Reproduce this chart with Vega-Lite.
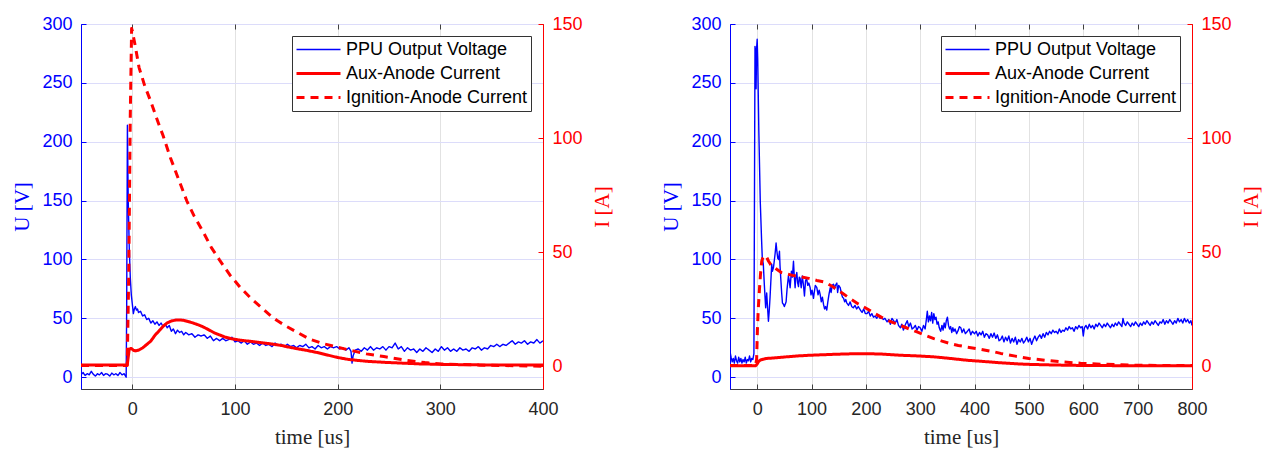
{
  "$schema": "https://vega.github.io/schema/vega-lite/v6.json",
  "padding": {"left": 11, "top": 14, "right": 5, "bottom": 2},
  "background": "white",
  "config": {
    "font": "Liberation Sans",
    "view": {"stroke": "#404040", "strokeWidth": 1},
    "axis": {"labelFont": "Liberation Sans", "labelFontSize": 18, "titleFont": "Liberation Serif", "titleFontSize": 21, "titleFontWeight": "normal", "tickSize": -5, "labelPadding": 14, "titlePadding": 9, "gridWidth": 1, "domainWidth": 1, "tickWidth": 1, "labelFlush": false, "labelOverlap": false},
    "line": {"strokeJoin": "round", "strokeCap": "butt"},
    "legend": {"orient": "top-right", "offset": 12, "title": null, "symbolType": "stroke", "symbolSize": 1936, "labelFont": "Liberation Sans", "labelFontSize": 18, "labelColor": "#000000", "strokeColor": "#333333", "fillColor": "white", "padding": 3, "rowPadding": 3, "clipHeight": 21, "labelOffset": 4, "cornerRadius": 0, "labelLimit": 400}
  },
  "datasets": {
    "L_ppu": [
      {"t":-50,"v":2},{"t":-48,"v":4},{"t":-46,"v":1.5},{"t":-44,"v":3},{"t":-42,"v":2},{"t":-40,"v":5},{"t":-38,"v":2.5},{"t":-36,"v":1},{"t":-34,"v":3},{"t":-32,"v":2},{"t":-30,"v":4},{"t":-28,"v":1.5},{"t":-26,"v":3},{"t":-24,"v":2.5},{"t":-22,"v":1},{"t":-20,"v":3.5},{"t":-18,"v":2},{"t":-16,"v":3},{"t":-14,"v":1.5},{"t":-12,"v":4},{"t":-10,"v":2},{"t":-8,"v":3},{"t":-6,"v":0},{"t":-5.5,"v":60},{"t":-4.8,"v":214},{"t":-4,"v":150},{"t":-3,"v":110},{"t":-2,"v":85},{"t":-1,"v":70},{"t":0,"v":62},{"t":1,"v":54},{"t":2,"v":58},{"t":3,"v":60},{"t":4,"v":57},{"t":5,"v":58},{"t":6,"v":55},{"t":8,"v":56},{"t":10,"v":52},{"t":12,"v":53},{"t":14,"v":49},{"t":16,"v":50},{"t":18,"v":46},{"t":20,"v":48},{"t":22,"v":45},{"t":24,"v":47},{"t":26,"v":44},{"t":28,"v":46},{"t":30,"v":43},{"t":32,"v":45},{"t":34,"v":42},{"t":36,"v":44},{"t":38,"v":39},{"t":40,"v":41},{"t":42,"v":37},{"t":44,"v":40},{"t":46,"v":38},{"t":48,"v":39},{"t":50,"v":36},{"t":52,"v":38},{"t":55,"v":36},{"t":58,"v":37},{"t":61,"v":34},{"t":64,"v":36},{"t":67,"v":35},{"t":70,"v":36},{"t":73,"v":33},{"t":76,"v":35},{"t":79,"v":31},{"t":82,"v":33},{"t":85,"v":31},{"t":88,"v":33},{"t":91,"v":31},{"t":94,"v":32},{"t":97,"v":34},{"t":100,"v":30},{"t":103,"v":31},{"t":106,"v":29},{"t":109,"v":31},{"t":112,"v":28},{"t":115,"v":30},{"t":118,"v":28},{"t":121,"v":29},{"t":124,"v":27},{"t":127,"v":29},{"t":130,"v":27},{"t":133,"v":28},{"t":136,"v":26},{"t":139,"v":29},{"t":142,"v":27},{"t":145,"v":28},{"t":148,"v":26},{"t":151,"v":28},{"t":154,"v":26},{"t":157,"v":27},{"t":160,"v":25},{"t":163,"v":27},{"t":166,"v":26},{"t":169,"v":28},{"t":172,"v":25},{"t":175,"v":26},{"t":178,"v":24},{"t":181,"v":27},{"t":184,"v":25},{"t":187,"v":26},{"t":190,"v":24},{"t":193,"v":26},{"t":196,"v":25},{"t":199,"v":26},{"t":202,"v":24},{"t":205,"v":25},{"t":208,"v":23},{"t":211,"v":25},{"t":213,"v":22},{"t":214,"v":12},{"t":215,"v":18},{"t":217,"v":23},{"t":220,"v":24},{"t":223,"v":22},{"t":226,"v":25},{"t":229,"v":23},{"t":232,"v":26},{"t":235,"v":23},{"t":238,"v":25},{"t":241,"v":24},{"t":244,"v":26},{"t":247,"v":23},{"t":250,"v":26},{"t":253,"v":25},{"t":256,"v":29},{"t":259,"v":24},{"t":262,"v":26},{"t":265,"v":22},{"t":268,"v":25},{"t":271,"v":23},{"t":274,"v":24},{"t":277,"v":21},{"t":280,"v":24},{"t":283,"v":22},{"t":286,"v":25},{"t":289,"v":23},{"t":292,"v":21},{"t":295,"v":24},{"t":298,"v":22},{"t":301,"v":26},{"t":304,"v":23},{"t":307,"v":25},{"t":310,"v":22},{"t":313,"v":24},{"t":316,"v":22},{"t":319,"v":25},{"t":322,"v":23},{"t":325,"v":24},{"t":328,"v":22},{"t":331,"v":25},{"t":334,"v":24},{"t":337,"v":26},{"t":340,"v":23},{"t":343,"v":25},{"t":346,"v":24},{"t":349,"v":27},{"t":352,"v":26},{"t":355,"v":28},{"t":358,"v":26},{"t":361,"v":28},{"t":364,"v":27},{"t":367,"v":29},{"t":370,"v":31},{"t":373,"v":28},{"t":376,"v":30},{"t":379,"v":29},{"t":382,"v":31},{"t":385,"v":28},{"t":388,"v":30},{"t":391,"v":29},{"t":394,"v":32},{"t":397,"v":29},{"t":400,"v":31}
    ],
    "L_aux": [
      {"t":-50,"v":0.5},{"t":-5,"v":0.5},{"t":-4,"v":4},{"t":-3,"v":7.5},{"t":-1,"v":7.8},{"t":1,"v":7},{"t":3,"v":6.7},{"t":6,"v":7},{"t":10,"v":8},{"t":14,"v":9.5},{"t":18,"v":11},{"t":22,"v":13.5},{"t":26,"v":15.5},{"t":30,"v":17.5},{"t":34,"v":19},{"t":38,"v":19.8},{"t":42,"v":20.2},{"t":46,"v":20.3},{"t":50,"v":20.1},{"t":55,"v":19.5},{"t":60,"v":18.8},{"t":65,"v":18},{"t":70,"v":17},{"t":75,"v":15.8},{"t":80,"v":14.6},{"t":85,"v":13.7},{"t":90,"v":12.8},{"t":97,"v":12},{"t":105,"v":11.4},{"t":113,"v":11},{"t":120,"v":10.6},{"t":133,"v":9.9},{"t":145,"v":9.1},{"t":152,"v":8.4},{"t":160,"v":7.7},{"t":169,"v":7},{"t":180,"v":6},{"t":190,"v":4.9},{"t":200,"v":3.8},{"t":210,"v":3},{"t":220,"v":2.5},{"t":230,"v":2.1},{"t":245,"v":1.7},{"t":260,"v":1.4},{"t":280,"v":1},{"t":300,"v":0.8},{"t":330,"v":0.6},{"t":360,"v":0.5},{"t":400,"v":0.5}
    ],
    "L_ign": [
      {"t":-50,"v":0.3},{"t":-5,"v":0.3},{"t":-3.5,"v":40},{"t":-2,"v":110},{"t":-0.7,"v":148},{"t":0,"v":147},{"t":3,"v":140},{"t":6.5,"v":131},{"t":12,"v":123},{"t":18,"v":116},{"t":25,"v":107},{"t":30,"v":101},{"t":37,"v":91.5},{"t":45,"v":82},{"t":53,"v":72.5},{"t":60,"v":66},{"t":70,"v":58},{"t":77,"v":52},{"t":85,"v":46.5},{"t":95,"v":40},{"t":105,"v":34.6},{"t":115,"v":30},{"t":125,"v":26},{"t":135,"v":22},{"t":141,"v":20},{"t":150,"v":17.5},{"t":160,"v":15},{"t":172,"v":12},{"t":185,"v":10},{"t":200,"v":8.3},{"t":215,"v":6.7},{"t":228,"v":5.4},{"t":245,"v":4.2},{"t":268,"v":2.5},{"t":285,"v":1.6},{"t":300,"v":1},{"t":330,"v":0.6},{"t":360,"v":0.3},{"t":400,"v":0}
    ],
    "R_ppu": [
      {"t":-50,"v":22},{"t":-48,"v":17},{"t":-46,"v":13},{"t":-44,"v":16},{"t":-42,"v":12},{"t":-40,"v":18},{"t":-38,"v":14},{"t":-36,"v":12},{"t":-34,"v":17},{"t":-32,"v":13},{"t":-30,"v":16},{"t":-28,"v":12},{"t":-26,"v":15},{"t":-24,"v":13},{"t":-22,"v":17},{"t":-20,"v":12},{"t":-18,"v":15},{"t":-16,"v":14},{"t":-14,"v":18},{"t":-12,"v":13},{"t":-10,"v":16},{"t":-8,"v":15},{"t":-6,"v":20},{"t":-5,"v":150},{"t":-4,"v":281},{"t":-3,"v":276},{"t":-2,"v":245},{"t":-1,"v":280},{"t":0,"v":287},{"t":1,"v":270},{"t":3,"v":210},{"t":5.7,"v":149},{"t":8,"v":118},{"t":9.4,"v":101},{"t":11.3,"v":96},{"t":13,"v":80},{"t":15.6,"v":59},{"t":17.5,"v":71.6},{"t":19,"v":60},{"t":20.7,"v":47.5},{"t":22,"v":55},{"t":23.7,"v":68},{"t":25,"v":80},{"t":26.8,"v":96},{"t":28,"v":90},{"t":29.9,"v":93},{"t":31,"v":97},{"t":33,"v":105},{"t":34.8,"v":114},{"t":36,"v":108},{"t":37.9,"v":101},{"t":39.5,"v":100},{"t":41,"v":107},{"t":42,"v":95},{"t":43.4,"v":84},{"t":45,"v":72},{"t":46.5,"v":63},{"t":48.3,"v":62},{"t":50,"v":60},{"t":53.2,"v":64},{"t":55,"v":75},{"t":57.5,"v":86},{"t":59,"v":82},{"t":60.6,"v":76},{"t":63,"v":90},{"t":64.8,"v":85},{"t":66.8,"v":98.5},{"t":68,"v":88},{"t":69.8,"v":76},{"t":71,"v":84},{"t":72.9,"v":89},{"t":74.5,"v":80},{"t":76,"v":77},{"t":77.5,"v":85},{"t":79,"v":84},{"t":81,"v":76},{"t":83,"v":86},{"t":85,"v":79},{"t":87,"v":69},{"t":89,"v":82},{"t":91,"v":84},{"t":93,"v":78},{"t":95,"v":80},{"t":97.5,"v":76},{"t":99,"v":70},{"t":101,"v":74},{"t":103.6,"v":67},{"t":105,"v":72},{"t":107,"v":78},{"t":109.8,"v":76},{"t":112,"v":70},{"t":114,"v":74},{"t":116,"v":70},{"t":118,"v":64},{"t":120,"v":68},{"t":122,"v":62},{"t":124,"v":58},{"t":126,"v":60},{"t":128,"v":57},{"t":130,"v":64},{"t":132,"v":70},{"t":134.4,"v":76},{"t":136,"v":72},{"t":138,"v":78},{"t":140.5,"v":79},{"t":142,"v":75},{"t":144,"v":78},{"t":146.6,"v":80},{"t":148,"v":72},{"t":150,"v":78},{"t":152.8,"v":76},{"t":155,"v":71},{"t":157,"v":68},{"t":159,"v":67},{"t":161,"v":64},{"t":163,"v":66},{"t":165,"v":63},{"t":168,"v":61},{"t":171,"v":64},{"t":174,"v":60},{"t":177,"v":59},{"t":180,"v":61},{"t":183,"v":58},{"t":186,"v":60},{"t":190,"v":57},{"t":193,"v":55},{"t":196,"v":58},{"t":199,"v":54},{"t":202,"v":54},{"t":205,"v":56},{"t":208,"v":52},{"t":211,"v":54},{"t":214,"v":51},{"t":217,"v":52},{"t":220,"v":50},{"t":223,"v":53},{"t":226,"v":50},{"t":229,"v":51},{"t":232,"v":49},{"t":235,"v":50},{"t":239,"v":47},{"t":242,"v":49},{"t":245,"v":45},{"t":248,"v":50},{"t":251,"v":48},{"t":254,"v":46},{"t":257,"v":49},{"t":260,"v":44},{"t":263.5,"v":42},{"t":266,"v":45},{"t":269,"v":40},{"t":272,"v":44},{"t":276,"v":48},{"t":279,"v":43},{"t":282,"v":46},{"t":285,"v":41},{"t":288,"v":42},{"t":291,"v":44},{"t":294,"v":40},{"t":297,"v":43},{"t":300,"v":42},{"t":303,"v":39},{"t":306,"v":44},{"t":309,"v":41},{"t":311,"v":48},{"t":313,"v":56},{"t":315,"v":47},{"t":317,"v":52},{"t":319,"v":48},{"t":321,"v":55},{"t":323,"v":46},{"t":325,"v":54},{"t":327,"v":49},{"t":329,"v":51},{"t":331,"v":45},{"t":333,"v":47},{"t":335,"v":42},{"t":337.6,"v":39},{"t":340,"v":44},{"t":342,"v":40},{"t":344,"v":46},{"t":346,"v":42},{"t":348,"v":48},{"t":350,"v":51},{"t":352,"v":44},{"t":354,"v":41},{"t":356,"v":43},{"t":358,"v":38},{"t":360,"v":42},{"t":362,"v":39},{"t":364,"v":41},{"t":367,"v":37},{"t":370,"v":40},{"t":372,"v":43},{"t":374.6,"v":42},{"t":377,"v":38},{"t":380,"v":41},{"t":383,"v":37},{"t":386.8,"v":39},{"t":390,"v":41},{"t":393,"v":36},{"t":396,"v":39},{"t":400,"v":37},{"t":403,"v":39},{"t":406,"v":35},{"t":409,"v":38},{"t":412,"v":36},{"t":415,"v":39},{"t":418,"v":34},{"t":421,"v":37},{"t":424,"v":36},{"t":427,"v":33},{"t":430,"v":37},{"t":433,"v":34},{"t":436,"v":37.5},{"t":439,"v":33},{"t":442,"v":36},{"t":445,"v":31},{"t":448,"v":32},{"t":451,"v":35},{"t":454,"v":30},{"t":457,"v":34},{"t":460,"v":31},{"t":463,"v":35},{"t":466,"v":29},{"t":469,"v":33},{"t":472,"v":30},{"t":475,"v":34},{"t":478,"v":28},{"t":481,"v":32},{"t":484,"v":30},{"t":487,"v":33},{"t":490,"v":29},{"t":493,"v":31},{"t":496,"v":34},{"t":499,"v":30},{"t":502,"v":33},{"t":505,"v":28},{"t":508,"v":32},{"t":511,"v":35},{"t":514,"v":31},{"t":517,"v":34},{"t":520,"v":36},{"t":523,"v":33},{"t":526,"v":37},{"t":529,"v":34},{"t":532,"v":38},{"t":535,"v":36},{"t":538,"v":39},{"t":541,"v":37},{"t":544,"v":40},{"t":547,"v":38},{"t":550,"v":39},{"t":553,"v":37},{"t":556,"v":41},{"t":559,"v":38},{"t":562,"v":40},{"t":565,"v":39},{"t":568,"v":42},{"t":571,"v":40},{"t":574,"v":43},{"t":577,"v":41},{"t":580,"v":42},{"t":583,"v":39},{"t":586,"v":43},{"t":589,"v":41},{"t":592,"v":44},{"t":595,"v":42},{"t":598,"v":43},{"t":600,"v":35},{"t":602,"v":42},{"t":605,"v":44},{"t":608,"v":41},{"t":611,"v":45},{"t":614,"v":42},{"t":617,"v":44},{"t":620,"v":41},{"t":623,"v":45},{"t":626,"v":43},{"t":629,"v":46},{"t":632,"v":44},{"t":635,"v":42},{"t":638,"v":45},{"t":641,"v":43},{"t":644,"v":46},{"t":647,"v":44},{"t":650,"v":42},{"t":653,"v":45},{"t":656,"v":43},{"t":659,"v":46},{"t":662,"v":44},{"t":665,"v":47},{"t":668,"v":45},{"t":671,"v":43},{"t":673,"v":50},{"t":675,"v":46},{"t":678,"v":44},{"t":681,"v":47},{"t":684,"v":45},{"t":687,"v":43},{"t":690,"v":46},{"t":693,"v":44},{"t":696,"v":47},{"t":699,"v":45},{"t":702,"v":43},{"t":705,"v":46},{"t":708,"v":44},{"t":711,"v":47},{"t":714,"v":45},{"t":717,"v":48},{"t":720,"v":46},{"t":723,"v":44},{"t":726,"v":47},{"t":729,"v":45},{"t":732,"v":48},{"t":735,"v":46},{"t":738,"v":44},{"t":741,"v":47},{"t":744,"v":46},{"t":747,"v":49},{"t":750,"v":45},{"t":753,"v":48},{"t":756,"v":46},{"t":759,"v":49},{"t":762,"v":47},{"t":765,"v":45},{"t":768,"v":48},{"t":771,"v":46},{"t":774,"v":50},{"t":777,"v":47},{"t":780,"v":49},{"t":783,"v":46},{"t":786,"v":50},{"t":789,"v":47},{"t":792,"v":49},{"t":795,"v":46},{"t":798,"v":48},{"t":800,"v":44}
    ],
    "R_aux": [
      {"t":-50,"v":0.2},{"t":-3,"v":0.2},{"t":0,"v":1},{"t":3,"v":2.2},{"t":6,"v":2.7},{"t":12,"v":3.1},{"t":17.5,"v":3.4},{"t":30,"v":3.6},{"t":54,"v":4.1},{"t":75,"v":4.5},{"t":97,"v":4.8},{"t":120,"v":5},{"t":140,"v":5.2},{"t":170,"v":5.4},{"t":202,"v":5.5},{"t":230,"v":5.3},{"t":263,"v":4.8},{"t":295,"v":4.5},{"t":325,"v":4.1},{"t":355,"v":3.4},{"t":386,"v":2.6},{"t":420,"v":2},{"t":447,"v":1.5},{"t":480,"v":1},{"t":500,"v":0.8},{"t":550,"v":0.5},{"t":600,"v":0.3},{"t":700,"v":0.2},{"t":800,"v":0.2}
    ],
    "R_ign": [
      {"t":-50,"v":0.3},{"t":-3,"v":0.3},{"t":-1,"v":3},{"t":0.4,"v":15.7},{"t":2,"v":25},{"t":4,"v":33},{"t":6,"v":40},{"t":8.4,"v":46},{"t":11,"v":48},{"t":14.6,"v":48.5},{"t":17,"v":48},{"t":21,"v":46},{"t":25,"v":44.5},{"t":28,"v":44},{"t":36,"v":42.5},{"t":45,"v":41},{"t":54,"v":40.5},{"t":65,"v":39.8},{"t":79,"v":39.2},{"t":95,"v":38.5},{"t":109.5,"v":37.6},{"t":124,"v":36.9},{"t":140,"v":34.7},{"t":155,"v":32.3},{"t":171,"v":29.6},{"t":186,"v":27.3},{"t":202,"v":25.2},{"t":217,"v":23},{"t":232.7,"v":20.9},{"t":248,"v":19.3},{"t":263.4,"v":17.9},{"t":279,"v":16.4},{"t":294,"v":15},{"t":310,"v":13.5},{"t":325,"v":12.1},{"t":340,"v":11},{"t":355.6,"v":9.9},{"t":370,"v":9.1},{"t":386,"v":8.4},{"t":404,"v":7.7},{"t":420,"v":7},{"t":435.6,"v":6.3},{"t":448,"v":5.6},{"t":475,"v":4.4},{"t":500,"v":3.4},{"t":530,"v":2.6},{"t":559,"v":1.9},{"t":595,"v":1.3},{"t":632,"v":0.9},{"t":670,"v":0.6},{"t":706,"v":0.4},{"t":750,"v":0.3},{"t":800,"v":0.3}
    ]
  },
  "spacing": 47,
  "resolve": {
    "scale": {"color": "independent", "strokeDash": "independent", "strokeWidth": "independent"},
    "legend": {"color": "independent", "strokeDash": "independent", "strokeWidth": "independent"}
  },
  "hconcat": [
    {
      "width": 462,
      "height": 365,
      "resolve": {"scale": {"y": "independent"}, "axis": {"x": "independent"}},
      "layer": [
        {
          "data": {"name": "L_ppu"},
          "mark": {"type": "line", "clip": true},
          "encoding": {
            "x": {"field": "t", "type": "quantitative", "scale": {"domain": [-50, 400], "nice": false, "zero": false}, "axis": {"orient": "bottom", "title": "time [us]", "values": [0, 100, 200, 300, 400], "grid": true, "gridColor": "#e2e2e2", "domainColor": "#404040", "tickColor": "#404040", "labelColor": "#262626", "titleColor": "#262626", "labelPadding": 16, "titlePadding": 8}},
            "y": {"field": "v", "type": "quantitative", "scale": {"domain": [-10, 300], "nice": false, "zero": false}, "axis": {"orient": "left", "title": "U [V]", "values": [0, 50, 100, 150, 200, 250, 300], "grid": true, "gridColor": "#dcdcfa", "domainColor": "#0000ff", "tickColor": "#0000ff", "labelColor": "#0000ff", "titleColor": "#0000ff"}},
            "color": {"datum": "PPU Output Voltage", "type": "nominal", "scale": {"domain": ["PPU Output Voltage", "Aux-Anode Current", "Ignition-Anode Current"], "range": ["#0000ff", "#ff0000", "#ff0000"]}},
            "strokeDash": {"datum": "PPU Output Voltage", "type": "nominal", "scale": {"domain": ["PPU Output Voltage", "Aux-Anode Current", "Ignition-Anode Current"], "range": [[1, 0], [1, 0], [8, 6]]}},
            "strokeWidth": {"datum": "PPU Output Voltage", "type": "nominal", "scale": {"type": "ordinal", "domain": ["PPU Output Voltage", "Aux-Anode Current", "Ignition-Anode Current"], "range": [1.4, 3, 3]}}
          }
        },
        {
          "layer": [
            {
              "data": {"name": "L_aux"},
              "mark": {"type": "line", "clip": true},
              "encoding": {
                "x": {"field": "t", "type": "quantitative", "scale": {"domain": [-50, 400], "nice": false, "zero": false}, "axis": {"orient": "top", "title": null, "labels": false, "domain": false, "grid": false, "values": [0, 100, 200, 300, 400], "tickColor": "#404040"}},
                "y": {"field": "v", "type": "quantitative", "scale": {"domain": [-10, 150], "nice": false, "zero": false}, "axis": {"orient": "right", "title": "I [A]", "titleAngle": 270, "titleBaseline": "top", "values": [0, 50, 100, 150], "grid": false, "domainColor": "#ff0000", "tickColor": "#ff0000", "labelColor": "#ff0000", "titleColor": "#ff0000"}},
                "color": {"datum": "Aux-Anode Current", "type": "nominal", "scale": {"domain": ["PPU Output Voltage", "Aux-Anode Current", "Ignition-Anode Current"], "range": ["#0000ff", "#ff0000", "#ff0000"]}},
                "strokeDash": {"datum": "Aux-Anode Current", "type": "nominal", "scale": {"domain": ["PPU Output Voltage", "Aux-Anode Current", "Ignition-Anode Current"], "range": [[1, 0], [1, 0], [8, 6]]}},
                "strokeWidth": {"datum": "Aux-Anode Current", "type": "nominal", "scale": {"type": "ordinal", "domain": ["PPU Output Voltage", "Aux-Anode Current", "Ignition-Anode Current"], "range": [1.4, 3, 3]}}
              }
            },
            {
              "data": {"name": "L_ign"},
              "mark": {"type": "line", "clip": true},
              "encoding": {
                "x": {"field": "t", "type": "quantitative", "scale": {"domain": [-50, 400], "nice": false, "zero": false}, "axis": {"orient": "top", "title": null, "labels": false, "domain": false, "grid": false, "values": [0, 100, 200, 300, 400], "tickColor": "#404040"}},
                "y": {"field": "v", "type": "quantitative", "scale": {"domain": [-10, 150], "nice": false, "zero": false}, "axis": {"orient": "right", "title": "I [A]", "titleAngle": 270, "titleBaseline": "top", "values": [0, 50, 100, 150], "grid": false, "domainColor": "#ff0000", "tickColor": "#ff0000", "labelColor": "#ff0000", "titleColor": "#ff0000"}},
                "color": {"datum": "Ignition-Anode Current", "type": "nominal", "scale": {"domain": ["PPU Output Voltage", "Aux-Anode Current", "Ignition-Anode Current"], "range": ["#0000ff", "#ff0000", "#ff0000"]}},
                "strokeDash": {"datum": "Ignition-Anode Current", "type": "nominal", "scale": {"domain": ["PPU Output Voltage", "Aux-Anode Current", "Ignition-Anode Current"], "range": [[1, 0], [1, 0], [8, 6]]}},
                "strokeWidth": {"datum": "Ignition-Anode Current", "type": "nominal", "scale": {"type": "ordinal", "domain": ["PPU Output Voltage", "Aux-Anode Current", "Ignition-Anode Current"], "range": [1.4, 3, 3]}}
              }
            }
          ]
        }
      ]
    },
    {
      "width": 462,
      "height": 365,
      "resolve": {"scale": {"y": "independent"}, "axis": {"x": "independent"}},
      "layer": [
        {
          "data": {"name": "R_ppu"},
          "mark": {"type": "line", "clip": true},
          "encoding": {
            "x": {"field": "t", "type": "quantitative", "scale": {"domain": [-50, 800], "nice": false, "zero": false}, "axis": {"orient": "bottom", "title": "time [us]", "values": [0, 100, 200, 300, 400, 500, 600, 700, 800], "grid": true, "gridColor": "#e2e2e2", "domainColor": "#404040", "tickColor": "#404040", "labelColor": "#262626", "titleColor": "#262626", "labelPadding": 16, "titlePadding": 8}},
            "y": {"field": "v", "type": "quantitative", "scale": {"domain": [-10, 300], "nice": false, "zero": false}, "axis": {"orient": "left", "title": "U [V]", "values": [0, 50, 100, 150, 200, 250, 300], "grid": true, "gridColor": "#dcdcfa", "domainColor": "#0000ff", "tickColor": "#0000ff", "labelColor": "#0000ff", "titleColor": "#0000ff"}},
            "color": {"datum": "PPU Output Voltage", "type": "nominal", "scale": {"domain": ["PPU Output Voltage", "Aux-Anode Current", "Ignition-Anode Current"], "range": ["#0000ff", "#ff0000", "#ff0000"]}},
            "strokeDash": {"datum": "PPU Output Voltage", "type": "nominal", "scale": {"domain": ["PPU Output Voltage", "Aux-Anode Current", "Ignition-Anode Current"], "range": [[1, 0], [1, 0], [8, 6]]}},
            "strokeWidth": {"datum": "PPU Output Voltage", "type": "nominal", "scale": {"type": "ordinal", "domain": ["PPU Output Voltage", "Aux-Anode Current", "Ignition-Anode Current"], "range": [1.4, 3, 3]}}
          }
        },
        {
          "layer": [
            {
              "data": {"name": "R_aux"},
              "mark": {"type": "line", "clip": true},
              "encoding": {
                "x": {"field": "t", "type": "quantitative", "scale": {"domain": [-50, 800], "nice": false, "zero": false}, "axis": {"orient": "top", "title": null, "labels": false, "domain": false, "grid": false, "values": [0, 100, 200, 300, 400, 500, 600, 700, 800], "tickColor": "#404040"}},
                "y": {"field": "v", "type": "quantitative", "scale": {"domain": [-10, 150], "nice": false, "zero": false}, "axis": {"orient": "right", "title": "I [A]", "titleAngle": 270, "titleBaseline": "top", "values": [0, 50, 100, 150], "grid": false, "domainColor": "#ff0000", "tickColor": "#ff0000", "labelColor": "#ff0000", "titleColor": "#ff0000"}},
                "color": {"datum": "Aux-Anode Current", "type": "nominal", "scale": {"domain": ["PPU Output Voltage", "Aux-Anode Current", "Ignition-Anode Current"], "range": ["#0000ff", "#ff0000", "#ff0000"]}},
                "strokeDash": {"datum": "Aux-Anode Current", "type": "nominal", "scale": {"domain": ["PPU Output Voltage", "Aux-Anode Current", "Ignition-Anode Current"], "range": [[1, 0], [1, 0], [8, 6]]}},
                "strokeWidth": {"datum": "Aux-Anode Current", "type": "nominal", "scale": {"type": "ordinal", "domain": ["PPU Output Voltage", "Aux-Anode Current", "Ignition-Anode Current"], "range": [1.4, 3, 3]}}
              }
            },
            {
              "data": {"name": "R_ign"},
              "mark": {"type": "line", "clip": true},
              "encoding": {
                "x": {"field": "t", "type": "quantitative", "scale": {"domain": [-50, 800], "nice": false, "zero": false}, "axis": {"orient": "top", "title": null, "labels": false, "domain": false, "grid": false, "values": [0, 100, 200, 300, 400, 500, 600, 700, 800], "tickColor": "#404040"}},
                "y": {"field": "v", "type": "quantitative", "scale": {"domain": [-10, 150], "nice": false, "zero": false}, "axis": {"orient": "right", "title": "I [A]", "titleAngle": 270, "titleBaseline": "top", "values": [0, 50, 100, 150], "grid": false, "domainColor": "#ff0000", "tickColor": "#ff0000", "labelColor": "#ff0000", "titleColor": "#ff0000"}},
                "color": {"datum": "Ignition-Anode Current", "type": "nominal", "scale": {"domain": ["PPU Output Voltage", "Aux-Anode Current", "Ignition-Anode Current"], "range": ["#0000ff", "#ff0000", "#ff0000"]}},
                "strokeDash": {"datum": "Ignition-Anode Current", "type": "nominal", "scale": {"domain": ["PPU Output Voltage", "Aux-Anode Current", "Ignition-Anode Current"], "range": [[1, 0], [1, 0], [8, 6]]}},
                "strokeWidth": {"datum": "Ignition-Anode Current", "type": "nominal", "scale": {"type": "ordinal", "domain": ["PPU Output Voltage", "Aux-Anode Current", "Ignition-Anode Current"], "range": [1.4, 3, 3]}}
              }
            }
          ]
        }
      ]
    }
  ]
}
